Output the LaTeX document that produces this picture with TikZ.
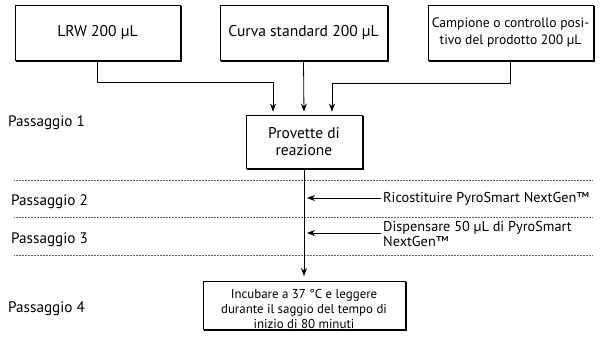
\documentclass[tikz,border=0pt]{standalone}
\usepackage{fontspec}
\setmainfont{PT Sans}
\usetikzlibrary{arrows.meta,shadows}
\begin{document}
\begin{tikzpicture}[x=1pt,y=-1pt,
  box/.style={draw, line width=0.8pt, fill=white, align=center, inner sep=1pt,
    copy shadow={shadow xshift=1.2pt, shadow yshift=-1.2pt, fill=black, draw=black}},
  conn/.style={line width=0.8pt},
  arr/.style={conn, -{Stealth[length=8pt,width=6pt]}},
  sep/.style={line width=0.4pt, dash pattern=on 0.5pt off 1pt, black!60},
  stage/.style={anchor=base west, font=\fontsize{15.2}{17}\selectfont, inner sep=0pt},
  small/.style={font=\fontsize{14.3}{15}\selectfont, inner sep=0pt}]
\useasboundingbox (0,0) rectangle (600,344);

\node[box, minimum width=165pt, minimum height=55pt, font=\fontsize{15.6}{17}\selectfont] (lrw) at (97.5,32.5) {LRW 200 µL};
\node[box, minimum width=167pt, minimum height=55pt, font=\fontsize{15.6}{17}\selectfont] (curva) at (303.5,32.5) {Curva standard 200 µL};
\node[box, minimum width=165pt, minimum height=55pt, font=\fontsize{13.6}{17.5}\selectfont] (camp) at (510.5,32.5) {Campione o controllo posi-\\tivo del prodotto 200 µL};
\node[box, minimum width=116pt, minimum height=53pt, font=\fontsize{15.5}{17.5}\selectfont] (prov) at (304,141.5) {Provette di\\reazione};
\node[box, minimum width=202pt, minimum height=45pt, font=\fontsize{12.9}{15}\selectfont] (inc) at (304,305.5) {\rule{0pt}{16pt}Incubare a 37 °C e leggere\\durante il saggio del tempo di\\inizio di 80 minuti};

\node[stage] (p1) at (8,127) {Passaggio 1};
\node[stage] (p2) at (11,206) {Passaggio 2};
\node[stage] (p3) at (11,244) {Passaggio 3};
\node[stage] (p4) at (8,313) {Passaggio 4};

\draw[sep] (14,180) -- (593,180);
\draw[sep] (14,217) -- (593,217);
\draw[sep] (14,255) -- (593,255);

\coordinate (j1) at (273,82);
\coordinate (j3) at (332,83);
\draw[arr, shorten >=3pt] (lrw.south) |- (j1) -- (j1 |- prov.north);
\draw[arr, shorten >=3pt] (curva.south) -- (prov.north);
\draw[arr, shorten >=3pt] (camp.south) |- (j3) -- (j3 |- prov.north);
\draw[arr, shorten >=5pt] (prov.south) -- (inc.north);

\coordinate (a2) at (381,198);
\coordinate (a3) at (381,233);
\draw[arr] (a2) -- (307,198);
\draw[arr] (a3) -- (307,233);
\node[small, anchor=base west] (t2) at (383,203) {Ricostituire PyroSmart NextGen™};
\node[small, anchor=base west, align=left] (t3) at (383,247) {Dispensare 50 µL di PyroSmart\\NextGen™};
\end{tikzpicture}
\end{document}
